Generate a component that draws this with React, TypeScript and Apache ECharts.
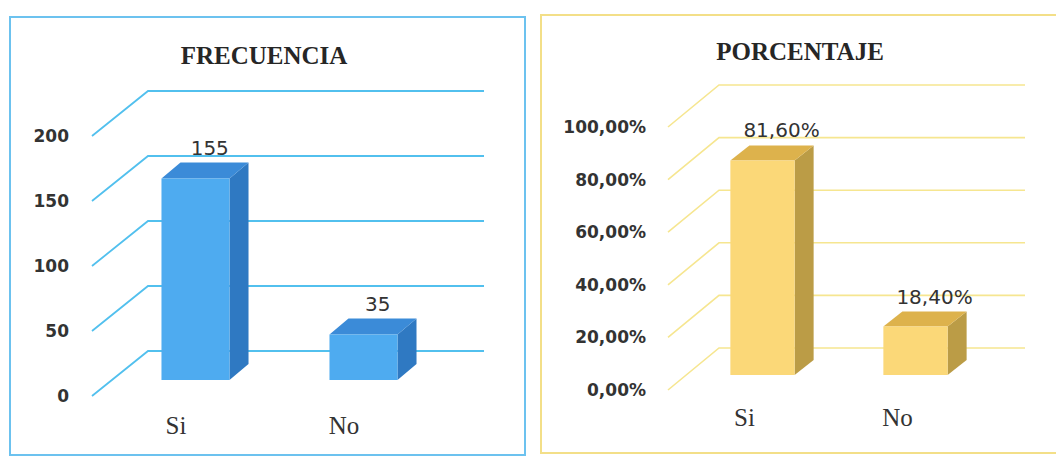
import React, { useEffect, useRef } from "react";
import * as echarts from "echarts";

const categories = ["Si", "No"];
const frecuencia = [155, 35];
const porcentaje = [81.6, 18.4];
const freqTicks = { min: 0, max: 200, interval: 50 };
const pctTicks = { min: 0, max: 100, interval: 20 };
const freqTickValues = [0, 50, 100, 150, 200];
const pctTickValues = [0, 20, 40, 60, 80, 100];

const BLUE = { front: "#4eabf0", top: "#3b8bd8", side: "#2f79c2", grid: "#52c0ee", border: "#6cc2ef" };
const GOLD = { front: "#fbd878", top: "#ddb24c", side: "#bb9c46", grid: "#f6e690", border: "#f3df88" };

function makeGridSeries(gridIndex: number, ticks: number[], depth: [number, number], color: string, lw: number) {
  return {
    type: "custom",
    xAxisIndex: gridIndex,
    yAxisIndex: gridIndex,
    silent: true,
    z: 1,
    data: ticks.map((t) => [0, t]),
    renderItem: (params: any, api: any) => {
      const cs = params.coordSys;
      const y = api.coord([0, api.value(1)])[1];
      const x0 = cs.x;
      const bx = x0 + depth[0];
      const by = y + depth[1];
      const ex = cs.x + cs.width + depth[0];
      return {
        type: "polyline",
        shape: { points: [[x0, y], [bx, by], [ex, by]] },
        style: { stroke: color, lineWidth: lw, fill: null },
      };
    },
  };
}

function makeBarSeries(
  gridIndex: number,
  values: number[],
  pal: any,
  offset: [number, number],
  depth: [number, number],
  widthRatio: number,
  labelShift: number,
  fmt: (v: number) => string
) {
  return {
    type: "custom",
    xAxisIndex: gridIndex,
    yAxisIndex: gridIndex,
    z: 5,
    data: values.map((v, i) => [i, v]),
    renderItem: (params: any, api: any) => {
      const c0 = api.coord([api.value(0), 0]);
      const c1 = api.coord([api.value(0), api.value(1)]);
      const bw = api.size([1, 0])[0] * widthRatio;
      const x0 = c0[0] - bw / 2 + offset[0];
      const x1 = x0 + bw;
      const yb = c0[1] + offset[1];
      const yt = c1[1] + offset[1];
      const dx = depth[0];
      const dy = depth[1];
      return {
        type: "group",
        children: [
          {
            type: "polygon",
            shape: { points: [[x1, yt], [x1 + dx, yt + dy], [x1 + dx, yb + dy], [x1, yb]] },
            style: { fill: pal.side },
          },
          {
            type: "polygon",
            shape: { points: [[x0, yt], [x1, yt], [x1 + dx, yt + dy], [x0 + dx, yt + dy]] },
            style: { fill: pal.top },
          },
          {
            type: "rect",
            shape: { x: x0, y: yt, width: bw, height: yb - yt },
            style: { fill: pal.front },
          },
          {
            type: "text",
            x: (x0 + x1) / 2 + dx * labelShift,
            y: yt + dy - 5,
            style: {
              text: fmt(api.value(1)),
              fill: "#333333",
              font: "20px 'DejaVu Sans'",
              align: "center",
              verticalAlign: "bottom",
            },
          },
        ],
      };
    },
  };
}

const pctFmt = (v: number) => v.toFixed(2).replace(".", ",") + "%";

export default function App() {
  const ref = useRef<HTMLDivElement>(null);
  useEffect(() => {
    if (!ref.current) return;
    const chart = echarts.init(ref.current, undefined, { renderer: "svg" });
    const yLabel = { color: "#333333", fontFamily: "DejaVu Sans", fontWeight: "bold", fontSize: 17 };
    const xLabel = { color: "#333333", fontFamily: "Liberation Serif", fontSize: 25 };
    chart.setOption({
      animation: false,
      backgroundColor: "#ffffff",
      graphic: [
        {
          type: "rect",
          shape: { x: 10, y: 17, width: 515, height: 438 },
          style: { fill: "none", stroke: BLUE.border, lineWidth: 2 },
          z: 0,
        },
        {
          type: "rect",
          shape: { x: 541, y: 15, width: 530, height: 438 },
          style: { fill: "none", stroke: GOLD.border, lineWidth: 2 },
          z: 0,
        },
        {
          type: "text",
          x: 264,
          y: 55,
          style: {
            text: "FRECUENCIA",
            font: "bold 25px 'Liberation Serif'",
            fill: "#262626",
            align: "center",
            verticalAlign: "middle",
          },
        },
        {
          type: "text",
          x: 800,
          y: 51,
          style: {
            text: "PORCENTAJE",
            font: "bold 25px 'Liberation Serif'",
            fill: "#262626",
            align: "center",
            verticalAlign: "middle",
          },
        },
      ],
      grid: [
        { left: 92, top: 136, width: 336, height: 260 },
        { left: 668, top: 127, width: 306, height: 263 },
      ],
      xAxis: [
        {
          type: "category",
          gridIndex: 0,
          data: categories,
          axisLine: { show: false },
          axisTick: { show: false },
          axisLabel: { ...xLabel, margin: 17 },
        },
        {
          type: "category",
          gridIndex: 1,
          data: categories,
          axisLine: { show: false },
          axisTick: { show: false },
          axisLabel: { ...xLabel, margin: 15 },
        },
      ],
      yAxis: [
        {
          type: "value",
          gridIndex: 0,
          ...freqTicks,
          splitLine: { show: false },
          axisLine: { show: false },
          axisTick: { show: false },
          axisLabel: { ...yLabel, margin: 23 },
        },
        {
          type: "value",
          gridIndex: 1,
          ...pctTicks,
          splitLine: { show: false },
          axisLine: { show: false },
          axisTick: { show: false },
          axisLabel: { ...yLabel, margin: 22, formatter: (v: number) => pctFmt(v) },
        },
      ],
      series: [
        makeGridSeries(0, freqTickValues, [56, -45], BLUE.grid, 1.8),
        makeGridSeries(1, pctTickValues, [51, -42], GOLD.grid, 1.6),
        makeBarSeries(0, frecuencia, BLUE, [19.5, -16], [19, -16], 0.405, 0.75, (v) => String(v)),
        makeBarSeries(1, porcentaje, GOLD, [18, -15], [19, -15], 0.42, 1, pctFmt),
      ],
    });
    return () => chart.dispose();
  }, []);
  return (
    <div
      ref={ref}
      style={{ position: "fixed", left: 0, top: 0, width: 1056, height: 456, background: "#fff" }}
    />
  );
}
